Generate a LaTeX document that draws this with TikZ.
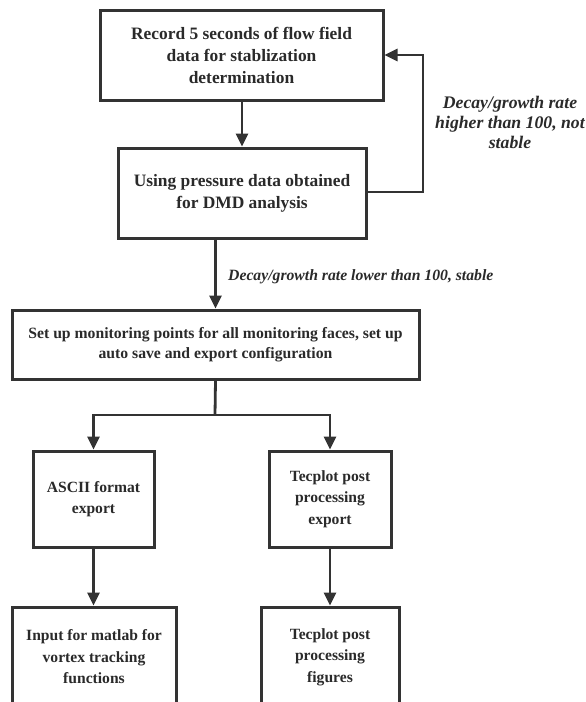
\documentclass[tikz,border=0pt]{standalone}
\usepackage{fontspec}
\setmainfont{Liberation Serif}
\usetikzlibrary{arrows.meta}
\definecolor{ink}{HTML}{333333}
\definecolor{txt}{HTML}{2A2A2A}
\tikzset{
  box/.style={draw=ink, line width=3pt, text=txt, inner sep=0pt, align=center, font=\bfseries},
  big/.style={font=\bfseries\fontsize{17.4}{22}\selectfont},
  mid/.style={font=\bfseries\fontsize{15.7}{20}\selectfont},
  sml/.style={font=\bfseries\fontsize{15.6}{21.5}\selectfont},
  conn/.style={draw=ink, line width=2.8pt, -{Triangle[length=13pt,width=12pt]}},
  plain/.style={draw=ink, line width=2.8pt},
  lbl/.style={text=txt, inner sep=0pt, align=center}
}
\begin{document}
\begin{tikzpicture}[x=1pt,y=-1pt]
\useasboundingbox (0,0) rectangle (586,702);
\clip (0,0) rectangle (586,702);
\fill[white] (0,0) rectangle (586,702);
\node[box,big,minimum width=283pt,minimum height=90pt] (b1) at (241.5,55) {Record 5 seconds of flow field\\data for stablization\\determination};
\node[box,big,minimum width=248pt,minimum height=90pt] (b2) at (242,193) {Using pressure data obtained\\for DMD analysis};
\node[box,mid,minimum width=407pt,minimum height=69pt] (b3) at (215.5,344.5) {Set up monitoring points for all monitoring faces, set up\\auto save and export configuration};
\node[box,sml,minimum width=121pt,minimum height=96pt] (b4) at (93.5,499) {ASCII format\\export};
\node[box,sml,minimum width=122pt,minimum height=96pt] (b5) at (330,499) {Tecplot post\\processing\\export};
\node[box,sml,minimum width=164pt,minimum height=100pt] (b6) at (94,657) {Input for matlab for\\vortex tracking\\functions};
\node[box,sml,minimum width=138pt,minimum height=100pt] (b7) at (330,657) {Tecplot post\\processing\\figures};
\coordinate (fr) at (423,192);
\coordinate (fu) at (423,55);
\coordinate (sp) at (215,415);
\draw[conn] (b1.south -| b2.north) -- (b2.north);
\draw[conn] (b2.east |- fr) -- (fr) -- (fu) -- (b1.east);
\draw[conn] (b2.south -| b3.north) -- (b3.north);
\draw[plain] (b3.south) -- (sp);
\draw[conn] (sp) -| (b4.north);
\draw[conn] (sp) -| (b5.north);
\draw[conn] (b4.south) -- (b4.south |- b6.north);
\draw[conn] (b5.south) -- (b5.south |- b7.north);
\node[lbl,font=\bfseries\itshape\fontsize{17.7}{20}\selectfont] (l1) at (510,122) {Decay/growth rate\\higher than 100, not\\stable};
\node[lbl,anchor=west,font=\bfseries\itshape\fontsize{15.7}{20}\selectfont] (l2) at (228,277) {Decay/growth rate lower than 100, stable};
\end{tikzpicture}
\end{document}
